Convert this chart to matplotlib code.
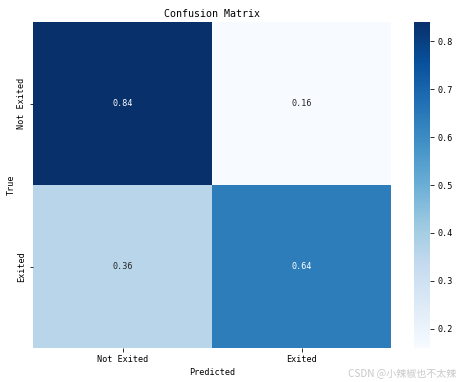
import numpy as np
import matplotlib
matplotlib.use('Agg')
import matplotlib.pyplot as plt
import seaborn as sns

# 混淆矩阵（归一化）
labels = ['Not Exited', 'Exited']
cm = np.array([[0.84, 0.16],
               [0.36, 0.64]])

plt.rcParams['font.family'] = ['DejaVu Sans Mono', 'Noto Sans CJK SC']

fig = plt.figure(figsize=(459 / 72, 382 / 72), dpi=72)
ax = fig.add_axes([0.072, 0.089, 0.78, 0.853])
cax = fig.add_axes([0.902, 0.089, 0.035, 0.853])

sns.heatmap(cm, annot=True, fmt='.2f', cmap='Blues', ax=ax, cbar_ax=cax,
            xticklabels=labels, yticklabels=labels, annot_kws={'fontsize': 8.5})
ax.set_title('Confusion Matrix', fontsize=10, pad=5)
ax.set_xlabel('Predicted', fontsize=8.5)
ax.set_ylabel('True', fontsize=8.5, labelpad=1)
ax.tick_params(labelsize=8.5)
cax.tick_params(labelsize=8.5)

fig.text(0.995, 0.01, 'CSDN @小辣椒也不太辣', ha='right', va='bottom',
         fontsize=10, color='#c8c8c8', family=['Noto Sans CJK SC', 'DejaVu Sans'])

fig.savefig('out.png', dpi=72)
